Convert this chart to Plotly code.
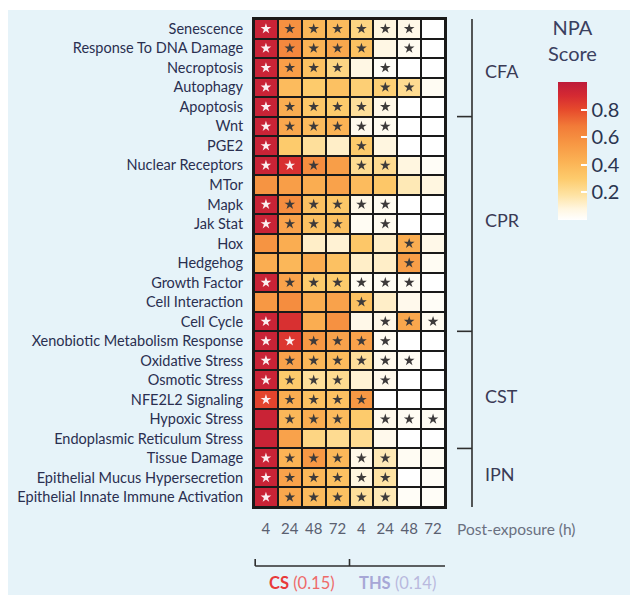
import plotly.graph_objects as go

# ---------------- data ----------------
pathways = ["Senescence", "Response To DNA Damage", "Necroptosis", "Autophagy", "Apoptosis",
            "Wnt", "PGE2", "Nuclear Receptors", "MTor", "Mapk", "Jak Stat", "Hox", "Hedgehog",
            "Growth Factor", "Cell Interaction", "Cell Cycle", "Xenobiotic Metabolism Response",
            "Oxidative Stress", "Osmotic Stress", "NFE2L2 Signaling", "Hypoxic Stress",
            "Endoplasmic Reticulum Stress", "Tissue Damage", "Epithelial Mucus Hypersecretion",
            "Epithelial Innate Immune Activation"]
time_labels = ["4", "24", "48", "72", "4", "24", "48", "72"]

cs_4 = [0.95, 0.95, 0.95, 0.95, 0.95, 0.95, 0.95, 0.95, 0.57, 0.95, 0.95, 0.57, 0.45, 0.95, 0.55,
        0.95, 0.95, 0.95, 0.95, 0.82, 0.95, 0.95, 0.95, 0.95, 0.95]
cs_24 = [0.58, 0.62, 0.52, 0.38, 0.45, 0.48, 0.30, 0.88, 0.52, 0.60, 0.50, 0.45, 0.40, 0.50, 0.60,
         0.88, 0.86, 0.50, 0.30, 0.45, 0.40, 0.50, 0.42, 0.50, 0.48]
cs_48 = [0.40, 0.42, 0.35, 0.30, 0.32, 0.38, 0.20, 0.60, 0.45, 0.35, 0.35, 0.12, 0.45, 0.30, 0.45,
         0.45, 0.55, 0.40, 0.20, 0.35, 0.45, 0.25, 0.55, 0.40, 0.38]
cs_72 = [0.38, 0.48, 0.25, 0.35, 0.30, 0.42, 0.12, 0.52, 0.50, 0.32, 0.35, 0.10, 0.35, 0.30, 0.50,
         0.58, 0.50, 0.38, 0.22, 0.35, 0.38, 0.22, 0.40, 0.35, 0.35]
ths_4 = [0.25, 0.35, 0.07, 0.28, 0.20, 0.05, 0.30, 0.22, 0.38, 0.06, 0.03, 0.32, 0.12, 0.04, 0.35,
         0.06, 0.50, 0.20, 0.10, 0.55, 0.30, 0.22, 0.06, 0.08, 0.20]
ths_24 = [0.08, 0.07, 0.02, 0.28, 0.06, 0.04, 0.08, 0.22, 0.32, 0.04, 0.04, 0.12, 0.12, 0.03, 0.12,
          0.06, 0.03, 0.05, 0.05, 0.00, 0.05, 0.05, 0.15, 0.18, 0.15]
ths_48 = [0.06, 0.04, 0.00, 0.22, 0.00, 0.00, 0.00, 0.08, 0.15, 0.00, 0.00, 0.45, 0.52, 0.03, 0.05,
          0.48, 0.00, 0.03, 0.00, 0.00, 0.03, 0.00, 0.03, 0.00, 0.02]
ths_72 = [0.00, 0.00, 0.00, 0.03, 0.00, 0.00, 0.00, 0.02, 0.08, 0.00, 0.00, 0.06, 0.03, 0.00, 0.02,
          0.04, 0.00, 0.00, 0.00, 0.00, 0.03, 0.00, 0.03, 0.02, 0.02]

# significance flags (1 = star)
sig_cs_4 = [1, 1, 1, 1, 1, 1, 1, 1, 0, 1, 1, 0, 0, 1, 0, 1, 1, 1, 1, 1, 0, 0, 1, 1, 1]
sig_cs_24 = [1, 1, 1, 0, 1, 1, 0, 1, 0, 1, 1, 0, 0, 1, 0, 0, 1, 1, 1, 1, 1, 0, 1, 1, 1]
sig_cs_48 = [1, 1, 1, 0, 1, 1, 0, 1, 0, 1, 1, 0, 0, 1, 0, 0, 1, 1, 1, 1, 1, 0, 1, 1, 1]
sig_cs_72 = [1, 1, 1, 0, 1, 1, 0, 0, 0, 1, 1, 0, 0, 1, 0, 0, 1, 1, 1, 1, 1, 0, 1, 1, 1]
sig_ths_4 = [1, 1, 0, 0, 1, 1, 1, 1, 0, 1, 0, 0, 0, 1, 1, 0, 1, 1, 0, 1, 0, 0, 1, 1, 1]
sig_ths_24 = [1, 0, 1, 1, 1, 1, 0, 1, 0, 1, 1, 0, 0, 1, 0, 1, 1, 1, 1, 0, 1, 0, 1, 1, 1]
sig_ths_48 = [1, 1, 0, 1, 0, 0, 0, 0, 0, 0, 0, 1, 1, 1, 0, 1, 0, 1, 0, 0, 1, 0, 0, 0, 0]
sig_ths_72 = [0, 0, 0, 0, 0, 0, 0, 0, 0, 0, 0, 0, 0, 0, 0, 1, 0, 0, 0, 0, 1, 0, 0, 0, 0]

groups = ["CFA", "CPR", "CST", "IPN"]
group_sizes = [5, 11, 6, 3]
cs_label, cs_score = "CS", "(0.15)"
ths_label, ths_score = "THS", "(0.14)"
cbar_ticks = [0.2, 0.4, 0.6, 0.8]

# ---------------- build ----------------
columns = [cs_4, cs_24, cs_48, cs_72, ths_4, ths_24, ths_48, ths_72]
sigs = [sig_cs_4, sig_cs_24, sig_cs_48, sig_cs_72, sig_ths_4, sig_ths_24, sig_ths_48, sig_ths_72]
n_rows, n_cols = len(pathways), len(columns)
z = [[columns[c][r] for c in range(n_cols)] for r in range(n_rows)]

W, H = 630, 595
PL, PR, PT, PB = 254, 445, 19, 507


def px(xp):
    return (xp - PL) / (PR - PL)


def py(yp):
    return (PB - yp) / (PB - PT)


FONT = "Lato, 'Open Sans', sans-serif"
colorscale = [[0.0, "#ffffff"], [0.08, "#fff6e0"], [0.18, "#fee3a4"], [0.3, "#fdcb6c"],
              [0.42, "#fbb355"], [0.55, "#f79844"], [0.68, "#f27b38"], [0.8, "#e64a2c"],
              [0.9, "#d52a32"], [1.0, "#bd1b3a"]]

fig = go.Figure()
fig.add_trace(go.Heatmap(
    z=z, x=list(range(n_cols)), y=list(range(n_rows)),
    zmin=0, zmax=1, colorscale=colorscale, xgap=2, ygap=2, hoverinfo="skip",
    colorbar=dict(
        x=px(558), xanchor="left", xpad=0, ypad=0, y=py(82), yanchor="top",
        len=(220 - 82) / (PB - PT), lenmode="fraction", thickness=29,
        outlinewidth=0, tickvals=cbar_ticks, ticktext=[f"{v:.1f}" for v in cbar_ticks],
        ticks="inside", ticklen=6, tickcolor="white", tickwidth=1.5,
        tickfont=dict(family=FONT, size=20, color="#2b3550"),
    ),
))

# stars
for c in range(n_cols):
    xs_w, ys_w, xs_d, ys_d = [], [], [], []
    for r in range(n_rows):
        if sigs[c][r]:
            if columns[c][r] > 0.75:
                xs_w.append(c); ys_w.append(r)
            else:
                xs_d.append(c); ys_d.append(r)
    fig.add_trace(go.Scatter(x=xs_w, y=ys_w, mode="markers", hoverinfo="skip", showlegend=False,
                             marker=dict(symbol="star", size=8, color="#fbeef0", line=dict(width=0))))
    fig.add_trace(go.Scatter(x=xs_d, y=ys_d, mode="markers", hoverinfo="skip", showlegend=False,
                             marker=dict(symbol="star", size=8, color="#3d3a3a", line=dict(width=0))))

shapes = []
# white outer margins (panel is light blue via paper_bgcolor)
shapes.append(dict(type="rect", xref="paper", yref="paper", x0=px(-5), x1=px(640), y0=py(10), y1=py(-5),
                   fillcolor="white", line=dict(width=0), layer="below"))
shapes.append(dict(type="rect", xref="paper", yref="paper", x0=px(-5), x1=px(8), y0=py(600), y1=py(-5),
                   fillcolor="white", line=dict(width=0), layer="below"))

# right group brackets
bx, btick = px(472), px(457)
lc = dict(color="#2e2e2e", width=1.6)
shapes.append(dict(type="line", xref="paper", yref="y", x0=bx, x1=bx, y0=-0.5 - 0.1, y1=n_rows - 0.5 + 0.05, line=lc))
edge = -0.5
for i, size in enumerate(group_sizes):
    yv = edge if i > 0 else edge - 0.1
    shapes.append(dict(type="line", xref="paper", yref="y", x0=btick, x1=bx, y0=yv, y1=yv, line=lc))
    edge += size
shapes.append(dict(type="line", xref="paper", yref="y", x0=btick, x1=bx, y0=edge + 0.05, y1=edge + 0.05, line=lc))

# bottom bracket
by, bt = py(566), py(559)
shapes.append(dict(type="line", xref="x", yref="paper", x0=-0.45, x1=7.55, y0=by, y1=by, line=lc))
for xv in [-0.45, 3.5, 7.55]:
    shapes.append(dict(type="line", xref="x", yref="paper", x0=xv, x1=xv, y0=by, y1=bt, line=lc))

annotations = []
group_label_y = [2.15, 9.8, 18.8, 22.8]
for g, gy in zip(groups, group_label_y):
    annotations.append(dict(text=g, x=px(483), xref="paper", y=gy, yref="y", xanchor="left",
                            yanchor="middle", showarrow=False,
                            font=dict(family=FONT, size=18, color="#3a3a55")))
annotations.append(dict(text="NPA<br>Score", x=px(572), xref="paper", y=py(40), yref="paper",
                        xanchor="center", yanchor="middle", showarrow=False,
                        font=dict(family=FONT, size=20, color="#3a4060")))
annotations.append(dict(text="Post-exposure (h)", x=px(455), xref="paper", y=py(529), yref="paper",
                        xanchor="left", yanchor="middle", showarrow=False,
                        font=dict(family=FONT, size=15.5, color="#6a7080")))
annotations.append(dict(text=f"<b>{cs_label}</b> <span style='color:#ee6a6a'>{cs_score}</span>",
                        x=1.5, xref="x", y=py(583), yref="paper", xanchor="center", yanchor="middle",
                        showarrow=False, font=dict(family=FONT, size=16.5, color="#e83a3a")))
annotations.append(dict(text=f"<b>{ths_label}</b> <span style='color:#b9b9de'>{ths_score}</span>",
                        x=5.5, xref="x", y=py(583), yref="paper", xanchor="center", yanchor="middle",
                        showarrow=False, font=dict(family=FONT, size=16.5, color="#a7a7d6")))

fig.update_layout(
    width=W, height=H, margin=dict(l=PL, r=W - PR, t=PT, b=H - PB, pad=0, autoexpand=False),
    paper_bgcolor="#e6f3f9", plot_bgcolor="#1a1a1a", showlegend=False,
    shapes=shapes, annotations=annotations,
    font=dict(family=FONT),
)
fig.update_xaxes(range=[-0.5, n_cols - 0.5], tickvals=list(range(n_cols)), ticktext=time_labels,
                 showgrid=False, zeroline=False, ticks="", ticklabelstandoff=7, automargin=False,
                 tickfont=dict(family=FONT, size=15, color="#5a6070"),
                 showline=True, linecolor="#1a1a1a", linewidth=2, mirror=True)
fig.update_yaxes(range=[n_rows - 0.5, -0.5], tickvals=list(range(n_rows)), ticktext=pathways,
                 showgrid=False, zeroline=False, ticks="", ticklabelstandoff=6, automargin=False,
                 tickfont=dict(family=FONT, size=14.5, color="#2a2f50"),
                 showline=True, linecolor="#1a1a1a", linewidth=2, mirror=True)

fig.write_html("out.html", config={"displayModeBar": False},
               post_script="document.body.style.margin='0';")
